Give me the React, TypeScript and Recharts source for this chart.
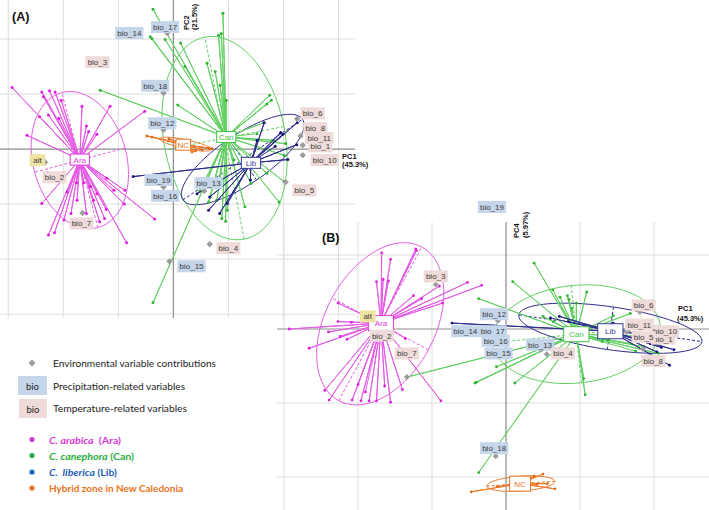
import React from 'react';
import { ScatterChart, Scatter, XAxis, YAxis } from 'recharts';

type Pt = [number, number];
type Ell = { cx: number; cy: number; a: number; b: number; angle: number };
type Lab = { name: string; kind: 'p' | 't' | 'a'; x: number; y: number };

const FONT = "'Liberation Sans', Arial, sans-serif";
const LEG_FONT = "Lato, 'Liberation Sans', sans-serif";

// ---------------- Panel A (PC1 x PC2) ----------------
const araCentroidA: Pt = [-1.7, -0.19];
const canCentroidA: Pt = [0.96, 0.22];
const libCentroidA: Pt = [1.41, -0.25];
const ncCentroidA: Pt = [0.18, 0.08];

const araPointsA: Pt[] = [
  [-2.93, 1.12], [-2.39, 1.04], [-2.25, 1.06], [-2.15, 1.04], [-2.36, 0.95], [-2.04, 0.89], [-2.27, 0.62],
  [-2.08, 0.56], [-2.43, 0.59], [-2.66, 0.25], [-1.58, 0.42], [-1.54, 0.32], [-1.66, 0.78], [-1.15, 0.78],
  [-0.52, 0.69], [-1.39, 0.27], [-2.39, -0.99], [-2.27, -1.56], [-2.16, -1.52], [-1.76, -0.61], [-1.63, -0.61],
  [-1.51, -0.68], [-1.45, -0.93], [-1.34, -1.32], [-1.25, -1.26], [-1.22, -1.1], [-1.21, -0.53], [-1.08, -0.75],
  [-0.88, -0.75], [-0.89, -1.0], [-0.85, -1.7], [-0.34, -1.27], [-1.75, -0.93], [-1.86, -1.17], [-1.99, -1.29],
  [-1.58, -1.17], [-1.93, -0.78], [-1.39, -0.81],
];
const canPointsA: Pt[] = [
  [-0.37, 2.54], [0.9, 2.47], [-0.42, 2.04], [-0.39, 2.01], [-0.15, 1.99], [0.13, 1.93], [0.21, 1.5],
  [0.61, 1.56], [0.82, 2.07], [0.87, 2.1], [0.76, 1.41], [0.85, 1.16], [0.96, 0.89], [0.08, 0.8],
  [-1.33, 1.07], [1.75, 0.98], [1.78, 0.89], [1.7, 0.82], [1.64, 0.48], [1.82, 0.16], [2.01, -0.11],
  [2.04, 0.1], [2.01, -0.59], [1.7, -0.44], [1.92, -0.96], [1.3, -1.05], [1.41, -0.62], [0.95, -1.31],
  [0.88, -1.26], [0.98, -1.11], [0.79, -0.93], [0.67, -0.87], [0.64, -0.96], [0.82, -0.62], [0.61, -0.56],
  [0.48, -0.76], [-0.37, -2.79], [1.1, -0.2], [1.52, 0.28],
];
const libPointsA: Pt[] = [
  [-0.73, -0.5], [2.25, 0.48], [1.99, 0.27], [2.24, 0.08], [2.08, -0.19], [1.65, 0.48], [1.52, 0.16],
  [0.66, -0.87], [0.64, -1.11], [0.84, -1.17], [0.98, -0.99], [1.4, -0.56], [0.43, -0.81], [1.95, 0.3], [1.85, 0.05],
];
const ncPointsA: Pt[] = [
  [-0.48, 0.24], [-0.39, 0.22], [-0.08, 0.19], [0.4, -0.03], [0.52, -0.01], [0.64, 0.02], [0.7, 0.01], [0.34, -0.05],
];
const araEllipseA: Ell = { cx: -1.7, cy: -0.2, a: 1.27, b: 0.85, angle: 105 };
const canEllipseA: Ell = { cx: 0.93, cy: 0.2, a: 1.87, b: 1.1, angle: 101 };
const libEllipseA: Ell = { cx: 1.26, cy: -0.19, a: 1.31, b: 0.45, angle: 34 };
const ncEllipseA: Ell = { cx: 0.22, cy: 0.09, a: 0.48, b: 0.08, angle: -12 };

const labelsA: Lab[] = [
  { name: 'bio_17', kind: 'p', x: -0.15, y: 2.22 },
  { name: 'bio_14', kind: 'p', x: -0.8, y: 2.11 },
  { name: 'bio_3', kind: 't', x: -1.38, y: 1.58 },
  { name: 'bio_18', kind: 'p', x: -0.33, y: 1.15 },
  { name: 'bio_12', kind: 'p', x: -0.2, y: 0.47 },
  { name: 'alt', kind: 'a', x: -2.47, y: -0.2 },
  { name: 'bio_2', kind: 't', x: -2.16, y: -0.51 },
  { name: 'bio_7', kind: 't', x: -1.67, y: -1.35 },
  { name: 'bio_19', kind: 'p', x: -0.27, y: -0.56 },
  { name: 'bio_16', kind: 'p', x: -0.15, y: -0.85 },
  { name: 'bio_13', kind: 'p', x: 0.64, y: -0.62 },
  { name: 'bio_6', kind: 't', x: 2.53, y: 0.65 },
  { name: 'bio_1', kind: 't', x: 2.67, y: 0.05 },
  { name: 'bio_8', kind: 't', x: 2.58, y: 0.38 },
  { name: 'bio_11', kind: 't', x: 2.65, y: 0.2 },
  { name: 'bio_10', kind: 't', x: 2.75, y: -0.2 },
  { name: 'bio_5', kind: 't', x: 2.38, y: -0.75 },
  { name: 'bio_4', kind: 't', x: 1.0, y: -1.8 },
  { name: 'bio_15', kind: 'p', x: 0.33, y: -2.13 },
];
const diamondsA: Pt[] = [
  [-0.11, 2.11], [-0.18, 1.02], [-0.18, 0.35], [-0.18, -0.69], [-2.33, -0.24], [-1.65, -1.16], [0.56, -0.76],
  [2.25, 0.55], [2.31, 0.24], [2.35, 0.07], [2.35, -0.11], [2.04, -0.6], [0.66, -1.73], [-0.07, -2.04],
];
const gridXA = [-3, -2, -1, 1, 2, 3];
const gridYA = [-3, -2, -1, 1, 2];

// ---------------- Panel B (PC1 x PC4) ----------------
const araCentroidB: Pt = [-1.69, 0.08];
const canCentroidB: Pt = [0.95, -0.07];
const libCentroidB: Pt = [1.41, -0.03];
const ncCentroidB: Pt = [0.19, -2.09];

const araPointsB: Pt[] = [
  [-2.93, 0.0], [-2.66, -0.26], [-2.39, -0.96], [-2.45, -0.83], [-2.08, -0.96], [-1.96, -0.97], [-1.85, -0.97],
  [-1.75, -0.97], [-1.64, -0.77], [-1.56, -0.99], [-1.4, -0.82], [-0.88, -0.97], [-1.68, 1.03], [-1.56, 0.94],
  [-1.75, 0.64], [-1.66, 0.67], [-1.59, 0.65], [-1.22, 1.08], [-1.21, 1.06], [-1.25, 0.45], [-1.14, 0.41],
  [-0.86, 0.35], [-0.52, 0.63], [-0.33, 0.59], [-0.9, 0.58], [-2.27, 0.35], [-2.27, 0.1], [-2.09, 0.09],
  [-2.4, -0.04], [-2.24, -0.1], [-2.15, -0.14], [-1.36, -0.13], [-2.0, -0.75], [-1.9, -0.85],
];
const canPointsB: Pt[] = [
  [0.38, 0.89], [0.09, 0.64], [-0.37, 0.41], [0.63, 0.53], [0.73, 0.43], [0.83, 0.45], [0.89, 0.28],
  [1.09, 0.5], [1.45, 0.18], [1.68, 0.21], [1.07, -0.89], [1.05, -0.67], [0.12, -0.73], [-0.13, -0.51],
  [-0.42, -0.73], [-0.4, -0.72], [-0.37, -1.94], [-1.34, -0.65], [0.5, 0.17], [0.64, 0.1], [1.86, -0.24],
  [2.06, -0.33], [1.9, -0.1], [1.3, -0.17], [1.38, -0.15], [0.85, 0.4], [0.95, 0.35], [1.7, -0.2], [1.75, -0.3],
];
const libPointsB: Pt[] = [
  [-0.73, 0.08], [2.27, -0.28], [2.21, -0.49], [2.04, -0.31], [1.45, 0.08], [0.72, 0.17], [0.84, 0.1],
  [1.77, -0.06], [1.95, -0.2], [2.1, -0.25], [0.6, 0.15],
];
const ncPointsB: Pt[] = [
  [-0.47, -2.2], [-0.12, -2.13], [0.38, -1.99], [0.5, -1.96], [0.56, -2.09], [0.66, -2.16], [0.42, -2.1],
];
const araEllipseB: Ell = { cx: -1.7, cy: 0.07, a: 1.18, b: 0.74, angle: 61.6 };
const canEllipseB: Ell = { cx: 0.95, cy: -0.07, a: 1.14, b: 0.66, angle: 6 };
const libEllipseB: Ell = { cx: 1.41, cy: 0.01, a: 1.25, b: 0.29, angle: -8.3 };
const ncEllipseB: Ell = { cx: 0.2, cy: -2.09, a: 0.46, b: 0.1, angle: 4 };

const labelsB: Lab[] = [
  { name: 'bio_19', kind: 'p', x: -0.19, y: 1.65 },
  { name: 'bio_3', kind: 't', x: -0.95, y: 0.71 },
  { name: 'alt', kind: 'a', x: -1.87, y: 0.17 },
  { name: 'bio_2', kind: 't', x: -1.68, y: -0.09 },
  { name: 'bio_7', kind: 't', x: -1.34, y: -0.33 },
  { name: 'bio_12', kind: 'p', x: -0.16, y: 0.2 },
  { name: 'bio_14', kind: 'p', x: -0.55, y: -0.03 },
  { name: 'bio_17', kind: 'p', x: -0.18, y: -0.03 },
  { name: 'bio_16', kind: 'p', x: -0.14, y: -0.16 },
  { name: 'bio_15', kind: 'p', x: -0.1, y: -0.33 },
  { name: 'bio_13', kind: 'p', x: 0.46, y: -0.21 },
  { name: 'bio_4', kind: 't', x: 0.77, y: -0.33 },
  { name: 'bio_6', kind: 't', x: 1.86, y: 0.32 },
  { name: 'bio_1', kind: 't', x: 2.12, y: -0.13 },
  { name: 'bio_11', kind: 't', x: 1.8, y: 0.06 },
  { name: 'bio_10', kind: 't', x: 2.15, y: -0.03 },
  { name: 'bio_5', kind: 't', x: 1.86, y: -0.11 },
  { name: 'bio_8', kind: 't', x: 1.99, y: -0.43 },
  { name: 'bio_18', kind: 'p', x: -0.16, y: -1.61 },
];
const diamondsB: Pt[] = [
  [-0.95, 0.6], [-0.11, 0.11], [0.47, -0.28], [0.55, -0.34], [-0.14, -1.72], [1.81, 0.23], [1.85, -0.27],
  [1.63, -0.04], [-1.34, -0.65],
];
const gridXB = [-3, -2, -1, 1, 2];
const gridYB = [-2, -1, 1];

// ---------------- styling ----------------
const COL = {
  ara: { line: '#e65ce6', point: '#e01ee0', text: '#e03ce0' },
  can: { line: '#63d063', point: '#2fb52f', text: '#45c445' },
  lib: { line: '#2d2d8d', point: '#16167a', text: '#3a3aa0' },
  nc: { line: '#ec7a2a', point: '#e06a12', text: '#e8731c' },
};
const GRID = '#dedede';
const AXIS = '#8c8c8c';

const toObj = (p: Pt) => ({ x: p[0], y: p[1] });
const spokes = (c: Pt, pts: Pt[]) => {
  const out: { x: number; y: number }[] = [];
  pts.forEach((p) => {
    out.push(toObj(c));
    out.push(toObj(p));
  });
  return out;
};
const ellipseOutline = (e: Ell) => {
  const t = (e.angle * Math.PI) / 180;
  const out: { x: number; y: number }[] = [];
  for (let i = 0; i <= 96; i++) {
    const u = (i / 96) * Math.PI * 2;
    const ex = e.a * Math.cos(u);
    const ey = e.b * Math.sin(u);
    out.push({ x: e.cx + ex * Math.cos(t) - ey * Math.sin(t), y: e.cy + ex * Math.sin(t) + ey * Math.cos(t) });
  }
  return out;
};
const ellipseAxis = (e: Ell, major: boolean) => {
  const t = (e.angle * Math.PI) / 180 + (major ? 0 : Math.PI / 2);
  const r = major ? e.a : e.b;
  return [
    { x: e.cx - r * Math.cos(t), y: e.cy - r * Math.sin(t) },
    { x: e.cx + r * Math.cos(t), y: e.cy + r * Math.sin(t) },
  ];
};

const Empty = () => <g />;

const makeDot = (color: string, r: number) => (p: any) => <circle cx={p.cx} cy={p.cy} r={r} fill={color} />;
const makeDiamond = (s: number) => (p: any) => (
  <path d={`M${p.cx},${p.cy - s}L${p.cx + s},${p.cy}L${p.cx},${p.cy + s}L${p.cx - s},${p.cy}Z`} fill="#9b9b9b" />
);
const LabelShape = (p: any) => {
  const { cx, cy, payload } = p;
  const fill = payload.kind === 'p' ? '#c6d6ea' : payload.kind === 't' ? '#eedad8' : '#efe3a2';
  const w = payload.name.length * 4.2 + 3;
  return (
    <g>
      <rect x={cx - w / 2} y={cy - 6} width={w} height={12} fill={fill} />
      <text x={cx} y={cy + 0.5} textAnchor="middle" dominantBaseline="central" fontSize={8} fill="#3a3a3a" fontFamily={FONT}>
        {payload.name}
      </text>
    </g>
  );
};
const makeBox = (color: string, padX: number, h: number, fs: number) => (p: any) => {
  const { cx, cy, payload } = p;
  const w = payload.name.length * fs * 0.55 + padX * 2;
  return (
    <g>
      <rect x={cx - w / 2} y={cy - h / 2} width={w} height={h} fill="#ffffff" stroke={color} strokeWidth={1} />
      <text x={cx} y={cy + 0.5} textAnchor="middle" dominantBaseline="central" fontSize={fs} fill={color} fontFamily={FONT}>
        {payload.name}
      </text>
    </g>
  );
};

type Group = { key: 'ara' | 'can' | 'lib' | 'nc'; name: string; c: Pt; pts: Pt[]; ell: Ell };

type PanelCfg = {
  width: number;
  height: number;
  xDomain: [number, number];
  yDomain: [number, number];
  gridX: number[];
  gridY: number[];
  gridTop: number;
  groups: Group[];
  labels: Lab[];
  diamonds: Pt[];
  box: { padX: number; h: number; fs: number };
  dot: number;
  dia: number;
};

function Panel({ cfg }: { cfg: PanelCfg }) {
  const [x0, x1] = cfg.xDomain;
  const [y0] = cfg.yDomain;
  const line = (stroke: string, extra: any = {}) => ({ stroke, strokeWidth: 1, fill: 'none', ...extra });
  const items: React.ReactNode[] = [];
  cfg.gridX.forEach((gx) =>
    items.push(
      <Scatter key={`gx${gx}`} data={[{ x: gx, y: y0 }, { x: gx, y: cfg.gridTop }]} line={line(GRID)} shape={Empty} isAnimationActive={false} legendType="none" />
    )
  );
  cfg.gridY.forEach((gy) =>
    items.push(
      <Scatter key={`gy${gy}`} data={[{ x: x0, y: gy }, { x: x1, y: gy }]} line={line(GRID)} shape={Empty} isAnimationActive={false} legendType="none" />
    )
  );
  items.push(
    <Scatter key="ax0" data={[{ x: 0, y: y0 }, { x: 0, y: cfg.gridTop }]} line={line(AXIS, { strokeWidth: 1.2 })} shape={Empty} isAnimationActive={false} legendType="none" />
  );
  items.push(
    <Scatter key="ay0" data={[{ x: x0, y: 0 }, { x: x1, y: 0 }]} line={line(AXIS, { strokeWidth: 1.2 })} shape={Empty} isAnimationActive={false} legendType="none" />
  );
  cfg.groups.forEach((g) => {
    const c = COL[g.key];
    items.push(
      <Scatter key={`el-${g.key}`} data={ellipseOutline(g.ell)} line={line(c.line)} shape={Empty} isAnimationActive={false} legendType="none" />
    );
    items.push(
      <Scatter key={`ma-${g.key}`} data={ellipseAxis(g.ell, true)} line={line(c.line, { strokeDasharray: '3 2' })} shape={Empty} isAnimationActive={false} legendType="none" />
    );
    items.push(
      <Scatter key={`mi-${g.key}`} data={ellipseAxis(g.ell, false)} line={line(c.line, { strokeDasharray: '3 2' })} shape={Empty} isAnimationActive={false} legendType="none" />
    );
  });
  cfg.groups.forEach((g) => {
    const c = COL[g.key];
    items.push(
      <Scatter key={`sp-${g.key}`} data={spokes(g.c, g.pts)} line={line(c.line)} shape={Empty} isAnimationActive={false} legendType="none" />
    );
    items.push(
      <Scatter key={`pt-${g.key}`} data={g.pts.map(toObj)} shape={makeDot(c.point, cfg.dot)} isAnimationActive={false} legendType="none" />
    );
  });
  items.push(
    <Scatter key="dia" data={cfg.diamonds.map(toObj)} shape={makeDiamond(cfg.dia)} isAnimationActive={false} legendType="none" />
  );
  cfg.groups.forEach((g) => {
    const c = COL[g.key];
    items.push(
      <Scatter
        key={`box-${g.key}`}
        data={[{ x: g.c[0], y: g.c[1], name: g.name }]}
        shape={makeBox(c.text, cfg.box.padX, cfg.box.h, cfg.box.fs)}
        isAnimationActive={false}
        legendType="none"
      />
    );
  });
  items.push(<Scatter key="labs" data={cfg.labels} shape={LabelShape} isAnimationActive={false} legendType="none" />);
  return (
    <ScatterChart width={cfg.width} height={cfg.height} margin={{ top: 0, right: 0, bottom: 0, left: 0 }}>
      <XAxis type="number" dataKey="x" domain={cfg.xDomain} allowDataOverflow hide />
      <YAxis type="number" dataKey="y" domain={cfg.yDomain} allowDataOverflow hide />
      {items}
    </ScatterChart>
  );
}

const panelA: PanelCfg = {
  width: 355,
  height: 318,
  xDomain: [-3.15, 3.3],
  yDomain: [-3.07, 2.71],
  gridX: gridXA,
  gridY: gridYA,
  gridTop: 2.71,
  groups: [
    { key: 'ara', name: 'Ara', c: araCentroidA, pts: araPointsA, ell: araEllipseA },
    { key: 'can', name: 'Can', c: canCentroidA, pts: canPointsA, ell: canEllipseA },
    { key: 'lib', name: 'Lib', c: libCentroidA, pts: libPointsA, ell: libEllipseA },
    { key: 'nc', name: 'NC', c: ncCentroidA, pts: ncPointsA, ell: ncEllipseA },
  ],
  labels: labelsA,
  diamonds: diamondsA,
  box: { padX: 3, h: 11, fs: 8 },
  dot: 1.5,
  dia: 3.2,
};

const panelB: PanelCfg = {
  width: 432,
  height: 315,
  xDomain: [-3.095, 2.743],
  yDomain: [-2.446, 1.811],
  gridX: gridXB,
  gridY: gridYB,
  gridTop: 1.446,
  groups: [
    { key: 'ara', name: 'Ara', c: araCentroidB, pts: araPointsB, ell: araEllipseB },
    { key: 'can', name: 'Can', c: canCentroidB, pts: canPointsB, ell: canEllipseB },
    { key: 'lib', name: 'Lib', c: libCentroidB, pts: libPointsB, ell: libEllipseB },
    { key: 'nc', name: 'NC', c: ncCentroidB, pts: ncPointsB, ell: ncEllipseB },
  ],
  labels: labelsB,
  diamonds: diamondsB,
  box: { padX: 6, h: 15, fs: 8 },
  dot: 1.4,
  dia: 3,
};

export default function App() {
  return (
    <div style={{ position: 'absolute', left: 0, top: 0, width: 709, height: 510, background: '#ffffff', overflow: 'hidden' }}>
      <div style={{ position: 'absolute', left: 0, top: 0 }}>
        <Panel cfg={panelA} />
      </div>
      <div style={{ position: 'absolute', left: 277, top: 195 }}>
        <Panel cfg={panelB} />
      </div>
      <svg width={709} height={510} style={{ position: 'absolute', left: 0, top: 0, pointerEvents: 'none' }}>
        <g fontFamily={FONT} fill="#111">
          <text x={12} y={21} fontSize={12.5} fontWeight="bold">(A)</text>
          <text x={322} y={242} fontSize={12.5} fontWeight="bold">(B)</text>
          <text transform="translate(188.5,30) rotate(-90)" fontSize={7.5} fontWeight="bold">PC2</text>
          <text transform="translate(196.5,30) rotate(-90)" fontSize={7.5} fontWeight="bold">(21.5%)</text>
          <text x={342} y={158.5} fontSize={7.5} fontWeight="bold">PC1</text>
          <text x={342} y={166.5} fontSize={7.5} fontWeight="bold">(45.3%)</text>
          <text transform="translate(519,238) rotate(-90)" fontSize={7.5} fontWeight="bold">PC4</text>
          <text transform="translate(528,238) rotate(-90)" fontSize={7.5} fontWeight="bold">(5.97%)</text>
          <text x={678} y={311} fontSize={7.5} fontWeight="bold">PC1</text>
          <text x={677} y={320.5} fontSize={7.5} fontWeight="bold">(45.3%)</text>
        </g>
        <g fontFamily={LEG_FONT}>
          <path d="M32,359.5L35.5,363L32,366.5L28.5,363Z" fill="#9b9b9b" />
          <text x={53} y={363} dominantBaseline="central" fontSize={10} fill="#222" textLength={163} lengthAdjust="spacingAndGlyphs">
            Environmental variable contributions
          </text>
          <rect x={18} y={376} width={29} height={19} fill="#c6d6ea" />
          <text x={32.5} y={386} textAnchor="middle" dominantBaseline="central" fontSize={9.5} fill="#222">bio</text>
          <text x={53} y={386} dominantBaseline="central" fontSize={10} fill="#222" textLength={132} lengthAdjust="spacingAndGlyphs">
            Precipitation-related variables
          </text>
          <rect x={19} y={399} width={28} height={19} fill="#eedad8" />
          <text x={33} y={409} textAnchor="middle" dominantBaseline="central" fontSize={9.5} fill="#222">bio</text>
          <text x={53} y={408} dominantBaseline="central" fontSize={10} fill="#222" textLength={134} lengthAdjust="spacingAndGlyphs">
            Temperature-related variables
          </text>
          <circle cx={32} cy={439.5} r={2.6} fill="#d23ad2" />
          <text x={49} y={440} dominantBaseline="central" fontSize={10} fontWeight="bold" fill="#d63ad6" textLength={72} lengthAdjust="spacingAndGlyphs" style={{ whiteSpace: 'pre' }}>
            <tspan fontStyle="italic">C. arabica</tspan>
            {'  (Ara)'}
          </text>
          <circle cx={32} cy={455.5} r={2.6} fill="#22b04a" />
          <text x={49} y={456} dominantBaseline="central" fontSize={10} fontWeight="bold" fill="#2aae3e" textLength={85} lengthAdjust="spacingAndGlyphs" style={{ whiteSpace: 'pre' }}>
            <tspan fontStyle="italic">C. canephora</tspan>
            {' (Can)'}
          </text>
          <circle cx={32} cy={472} r={2.6} fill="#1f66c2" />
          <text x={49} y={472} dominantBaseline="central" fontSize={10} fontWeight="bold" fill="#1f5fb8" textLength={68} lengthAdjust="spacingAndGlyphs" style={{ whiteSpace: 'pre' }}>
            <tspan fontStyle="italic">C.  liberica</tspan>
            {' (Lib)'}
          </text>
          <circle cx={32} cy={488} r={2.6} fill="#e8731c" />
          <text x={49} y={488} dominantBaseline="central" fontSize={10} fontWeight="bold" fill="#e8731c" textLength={134} lengthAdjust="spacingAndGlyphs">
            Hybrid zone in New Caledonia
          </text>
        </g>
      </svg>
    </div>
  );
}
